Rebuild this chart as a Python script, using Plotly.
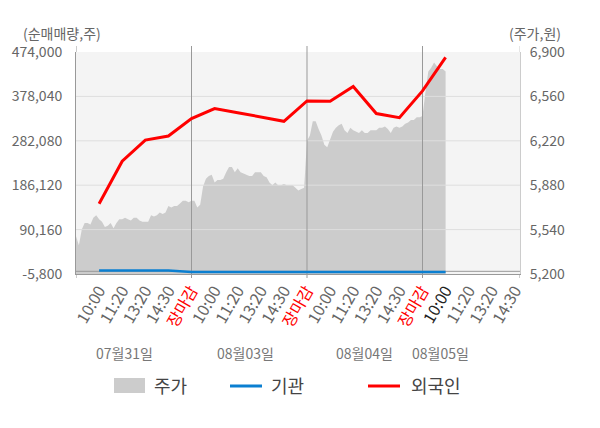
import numpy as np
import plotly.graph_objects as go

# axis ticks
vol_ticks = [-5800, 90160, 186120, 282080, 378040, 474000]      # 순매매량 (left)
price_ticks = [5200, 5540, 5880, 6220, 6560, 6900]              # 주가 (right)

days = ["07월31일", "08월03일", "08월04일", "08월05일"]
day_label_x = [2.12, 7.32, 12.51, 15.76]
session_labels = ["10:00", "11:20", "13:20", "14:30", "장마감"]
slots_per_day = 5
samples_per_slot = 8
x_end = 19.22

# 주가 (intraday, sampled every 1/8 slot)
price_day1 = [5490, 5420, 5540, 5590, 5590, 5580, 5630, 5650, 5620, 5600,
              5560, 5570, 5590, 5550, 5590, 5620, 5620, 5630, 5620, 5610,
              5630, 5630, 5610, 5600, 5600, 5600, 5650, 5640, 5650, 5670,
              5660, 5670, 5720, 5710, 5720, 5720, 5740, 5760, 5760, 5750]
price_day2 = [5760, 5760, 5710, 5730, 5870, 5930, 5950, 5960, 5900, 5920,
              5920, 5930, 5980, 6020, 6020, 5980, 6010, 5980, 5970, 5960,
              5950, 5950, 5980, 5980, 5980, 5950, 5940, 5900, 5880, 5900,
              5880, 5880, 5890, 5880, 5880, 5880, 5860, 5840, 5850, 5860]
price_day3 = [6220, 6260, 6370, 6370, 6310, 6260, 6190, 6170, 6230, 6290,
              6320, 6340, 6350, 6300, 6280, 6320, 6300, 6290, 6280, 6300,
              6280, 6280, 6300, 6300, 6300, 6320, 6320, 6330, 6310, 6280,
              6320, 6330, 6320, 6330, 6350, 6360, 6380, 6380, 6400, 6400]
price_day4 = [6410, 6590, 6750, 6780, 6820, 6790, 6770, 6770, 6750]

# 누적 순매매량, one value per slot (slot 1 .. 16)
foreign = [146000, 238000, 283600, 292300, 330000, 351800, 342900, 333300,
           324200, 368300, 367500, 399500, 340900, 332200, 390000, 462500]
inst = [1500, 1500, 1500, 1500, -1500, -1500, -1500, -1500,
        -1500, -1500, -1500, -1500, -1500, -1500, -1500, -1500]

legend_names = ["주가", "기관", "외국인"]
area_color = "#cccccc"
inst_color = "#0b7fd1"
foreign_color = "#ff0000"

# plot box in pixels
L, T, W, H = 76, 52, 444, 222
def fx(px):
    return (px - L) / W
def fy(py):
    return (T + H - py) / H

price_x, price_y = [], []
for d, p in enumerate([price_day1, price_day2, price_day3, price_day4]):
    price_x += list(d * slots_per_day + np.arange(len(p)) / samples_per_slot)
    price_y += p

slot_x = list(range(1, len(foreign) + 1))

fig = go.Figure()
fig.add_trace(go.Scatter(x=price_x, y=price_y, mode="lines", fill="tozeroy",
                         fillcolor=area_color, line=dict(width=0, color=area_color),
                         yaxis="y", hoverinfo="skip"))

# grid, zero line and day separators above the area
gx, gy = [], []
for v in vol_ticks[1:-1]:
    gx += [0, x_end, None]
    gy += [v, v, None]
fig.add_trace(go.Scatter(x=gx, y=gy, mode="lines", yaxis="y2",
                         line=dict(color="#dedede", width=1), hoverinfo="skip"))
bounds = [slots_per_day * i for i in range(1, len(days))]
dx, dy = [], []
for b in bounds:
    dx += [b, b, None]
    dy += [vol_ticks[0], vol_ticks[-1], None]
dx += [0, x_end]
dy += [0, 0]
fig.add_trace(go.Scatter(x=dx, y=dy, mode="lines", yaxis="y2",
                         line=dict(color="#999999", width=1), hoverinfo="skip"))

fig.add_trace(go.Scatter(x=slot_x, y=inst, mode="lines", yaxis="y2",
                         line=dict(color=inst_color, width=2.5)))
fig.add_trace(go.Scatter(x=slot_x, y=foreign, mode="lines", yaxis="y2",
                         line=dict(color=foreign_color, width=3)))

# x tick labels
tickvals, ticktext = [], []
for d in range(len(days)):
    labels = session_labels if d < len(days) - 1 else session_labels[:-1]
    for i, lab in enumerate(labels):
        tickvals.append(d * slots_per_day + i + 1)
        if lab == "장마감":
            ticktext.append(f"<span style='color:#ff0000'>{lab}</span>")
        elif d == len(days) - 1 and i == 0:
            ticktext.append(f"<span style='color:#222222'>{lab}</span>")
        else:
            ticktext.append(lab)

font = "Noto Sans CJK KR"
shapes = []
for b in [0] + bounds + [x_end]:
    c = "#cccccc" if b == x_end else "#999999"
    shapes.append(dict(type="line", xref="x", yref="paper", x0=b, x1=b,
                       y0=1, y1=fy(46), line=dict(color=c, width=1)))
    shapes.append(dict(type="line", xref="x", yref="paper", x0=b, x1=b,
                       y0=fy(278), y1=0, line=dict(color="#999999", width=1)))

# legend glyphs
shapes.append(dict(type="rect", xref="paper", yref="paper", x0=fx(114), x1=fx(145),
                   y0=fy(393), y1=fy(378), fillcolor=area_color, line=dict(width=0)))
shapes.append(dict(type="line", xref="paper", yref="paper", x0=fx(230), x1=fx(262),
                   y0=fy(386), y1=fy(386), line=dict(color=inst_color, width=3)))
shapes.append(dict(type="line", xref="paper", yref="paper", x0=fx(368), x1=fx(400),
                   y0=fy(386), y1=fy(386), line=dict(color=foreign_color, width=3)))

annotations = [
    dict(text="(순매매량,주)", xref="paper", yref="paper", x=fx(21), y=fy(33),
         xanchor="left", yanchor="middle", showarrow=False,
         font=dict(size=14, color="#666666")),
    dict(text="(주가,원)", xref="paper", yref="paper", x=fx(563), y=fy(33),
         xanchor="right", yanchor="middle", showarrow=False,
         font=dict(size=14, color="#666666")),
]
for name, xv in zip(days, day_label_x):
    annotations.append(dict(text=name, xref="x", yref="paper", x=xv, y=fy(353),
                            xanchor="center", yanchor="middle", showarrow=False,
                            font=dict(size=14, color="#777777")))
for name, px in zip(legend_names, [152, 269, 409]):
    annotations.append(dict(text=name, xref="paper", yref="paper", x=fx(px), y=fy(385),
                            xanchor="left", yanchor="middle", showarrow=False,
                            font=dict(size=18, color="#444444")))

fig.update_layout(
    width=600, height=428,
    margin=dict(l=L, r=600 - L - W, t=T, b=428 - T - H),
    paper_bgcolor="white", plot_bgcolor="#f4f4f4",
    font=dict(family=font, color="#666666"),
    showlegend=False,
    xaxis=dict(range=[0, x_end], tickvals=tickvals, ticktext=ticktext,
               tickangle=-60, tickfont=dict(size=16, color="#666666"),
               showgrid=False, zeroline=False, showline=True, linecolor="#999999",
               ticks="", automargin=False),
    yaxis=dict(range=[price_ticks[0], price_ticks[-1]], side="right",
               tickvals=price_ticks, ticktext=[f"{v:,}" for v in price_ticks],
               tickfont=dict(size=14, color="#666666"), showgrid=False,
               zeroline=False, showline=True, linecolor="#cccccc",
               ticks="", ticklabelstandoff=6, automargin=False),
    yaxis2=dict(range=[vol_ticks[0], vol_ticks[-1]], side="left", overlaying="y",
                tickvals=vol_ticks, ticktext=[f"{v:,}" for v in vol_ticks],
                tickfont=dict(size=14, color="#666666"), showgrid=False,
                zeroline=False, showline=True, linecolor="#999999",
                ticks="", ticklabelstandoff=10, automargin=False),
    shapes=shapes,
    annotations=annotations,
)

# page body has a default 8px margin; drop it so the figure sits at (0, 0)
fig.write_html("out.html", config={"displayModeBar": False},
               post_script="document.body.style.margin='0';")
